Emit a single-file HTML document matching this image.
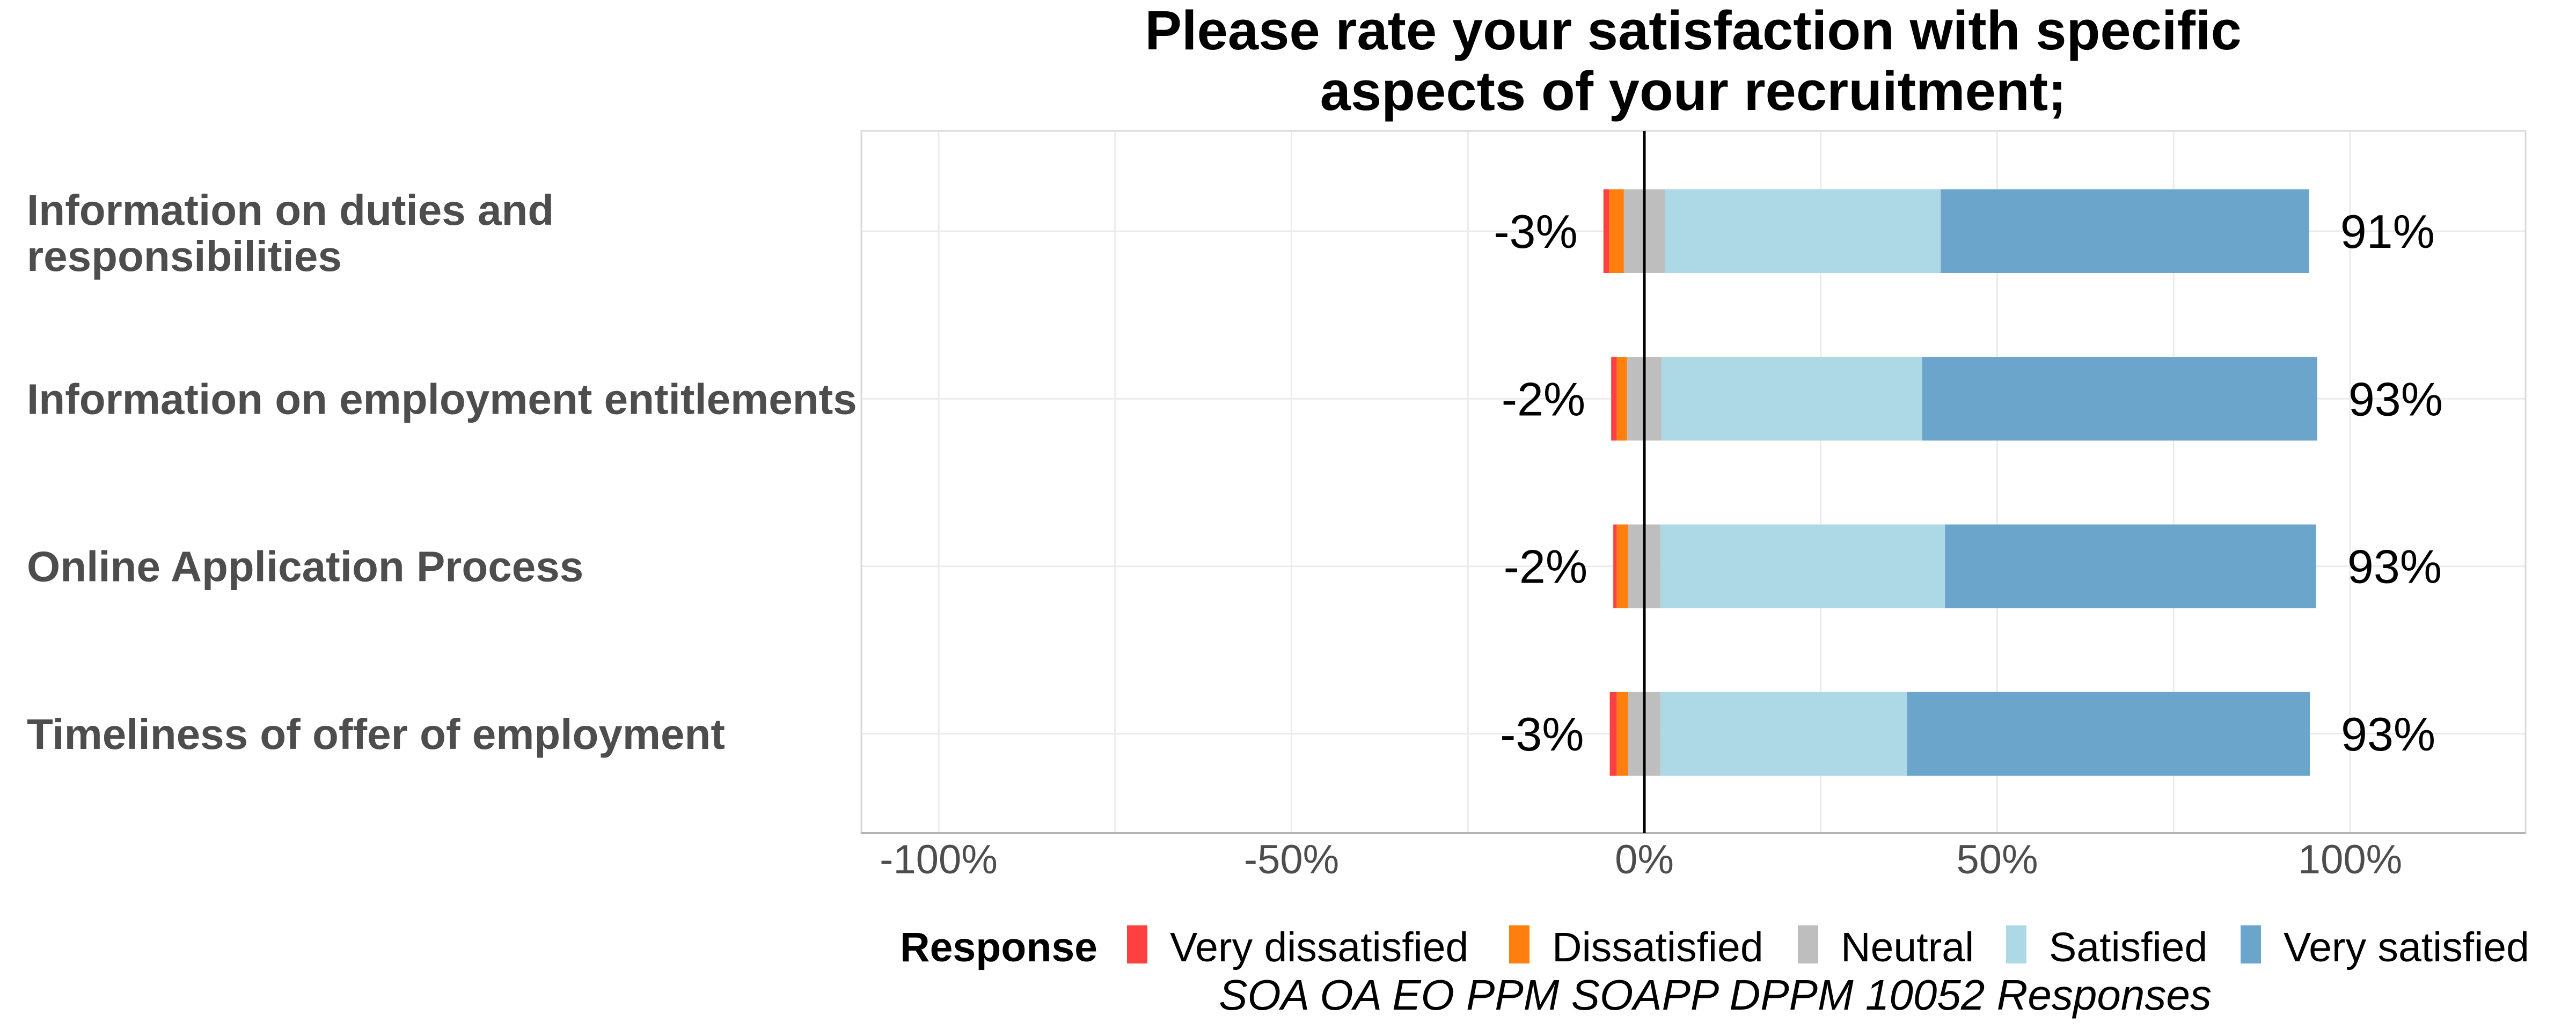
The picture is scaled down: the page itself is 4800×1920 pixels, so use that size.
<!DOCTYPE html>
<html><head><meta charset="utf-8"><style>
html,body{margin:0;padding:0;background:#fff;width:4800px;height:1920px;overflow:hidden}
svg{display:block;font-family:"Liberation Sans",sans-serif}
</style></head><body>
<svg id="chart" width="4800" height="1920" viewBox="0 0 4800 1920">
<text x="3155" y="92" text-anchor="middle" font-size="103" font-weight="bold" fill="#000">Please rate your satisfaction with specific</text>
<text x="3155" y="205" text-anchor="middle" font-size="103" font-weight="bold" fill="#000">aspects of your recruitment;</text>
<g id="grid"></g>
<g id="bars"></g>
<g id="labels"></g>
<g id="ylabels"></g>
<g id="xticks"></g>
<g id="legend">
<text x="1677" y="1792" font-size="77" font-weight="bold" fill="#000">Response</text>
</g>
<text x="3196" y="1882" text-anchor="middle" font-size="80" font-style="italic" fill="#000">SOA OA EO PPM SOAPP DPPM 10052 Responses</text>
</svg>
<script>
const categories = ["Information on duties and|responsibilities","Information on employment entitlements","Online Application Process","Timeliness of offer of employment"];
const veryDissatisfied = [0.8, 0.8, 0.5, 1.0];
const dissatisfied = [2.1, 1.45, 1.6, 1.6];
const neutral = [5.8, 4.9, 4.6, 4.6];
const satisfied = [39.1, 36.9, 40.3, 34.9];
const verySatisfied = [52.2, 56.0, 52.6, 57.1];
const negLabels = ["-3%","-2%","-2%","-3%"];
const posLabels = ["91%","93%","93%","93%"];
const tickValues = [-100,-50,0,50,100];
const tickLabels = ["-100%","-50%","0%","50%","100%"];
const seriesNames = ["Very dissatisfied","Dissatisfied","Neutral","Satisfied","Very satisfied"];

const NS="http://www.w3.org/2000/svg";
const colors=["#ff4040","#ff7f0e","#bebebe","#add8e6","#6ca5cb"];
const X0=3064, PX=13.15, PL=1605, PR=4706, PT=244, PB=1553;
const xs=v=>X0+v*PX;
const ys=i=>431+i*312.3;
const BH=156;
function mk(tag,attrs,parent){const e=document.createElementNS(NS,tag);for(const k in attrs)e.setAttribute(k,attrs[k]);parent.appendChild(e);return e;}
const grid=document.getElementById('grid');
for(let v=-125;v<=125;v+=25){const x=xs(v);if(x<PL||x>PR)continue;
 const l=mk('line',{x1:x,x2:x,y1:PT,y2:PB,stroke:'#ebebeb','stroke-width':3},grid);
 
 }
categories.forEach((c,i)=>{const l=mk('line',{x1:PL,x2:PR,y1:ys(i),y2:ys(i),stroke:'#ebebeb','stroke-width':3},grid);
 
 });
const border=mk('rect',{x:PL,y:PT,width:PR-PL,height:PB-PT,fill:'none',stroke:'#d9d9d9','stroke-width':3},grid);


const axis=mk('line',{x1:PL,x2:PR,y1:PB,y2:PB,stroke:'#b3b3b3','stroke-width':4},grid);



const bars=document.getElementById('bars'), labels=document.getElementById('labels');
const series=[veryDissatisfied,dissatisfied,neutral,satisfied,verySatisfied];
const segNames=['very-dissatisfied','dissatisfied','neutral','satisfied','very-satisfied'];
categories.forEach((c,i)=>{
 let start=-(veryDissatisfied[i]+dissatisfied[i]+neutral[i]/2);
 const left=start;
 series.forEach((s,k)=>{
  const r=mk('rect',{x:xs(start),y:ys(i)-BH/2,width:s[i]*PX,height:BH,fill:colors[k]},bars);
  
  
  start+=s[i];
 });
 const n=mk('text',{x:xs(left)-48,y:ys(i)+31,'text-anchor':'end','font-size':88,fill:'#000'},labels);
 n.textContent=negLabels[i];
 
 
 const p=mk('text',{x:xs(start)+58,y:ys(i)+31,'font-size':88,fill:'#000'},labels);
 p.textContent=posLabels[i];
 
 
 const parts=c.split('|');
 const yl=document.getElementById('ylabels');
 parts.forEach((t,j)=>{
  const y=parts.length>1?ys(i)-12+j*86:ys(i)+28;
  const e=mk('text',{x:50,y:y,'font-size':80,'font-weight':'bold',fill:'#4d4d4d'},yl);
  e.textContent=t;
  
  
 });
});
const zl=mk('line',{x1:xs(0),x2:xs(0),y1:PT,y2:PB,stroke:'#000','stroke-width':5},labels);


const xt=document.getElementById('xticks');
tickValues.forEach((v,i)=>{
 const t=mk('text',{x:xs(v),y:1628,'text-anchor':'middle','font-size':76,fill:'#4d4d4d'},xt);
 t.textContent=tickLabels[i];
 
 
});
const lg=document.getElementById('legend');
const keyX=[2100,2812,3350,3738,4175];
seriesNames.forEach((nm,k)=>{
 const r=mk('rect',{x:keyX[k],y:1725,width:38,height:71,fill:colors[k]},lg);
 
 
 const t=mk('text',{x:keyX[k]+80,y:1792,'font-size':77,fill:'#000'},lg);
 t.textContent=nm;
 
 
});
</script>
</body></html>
